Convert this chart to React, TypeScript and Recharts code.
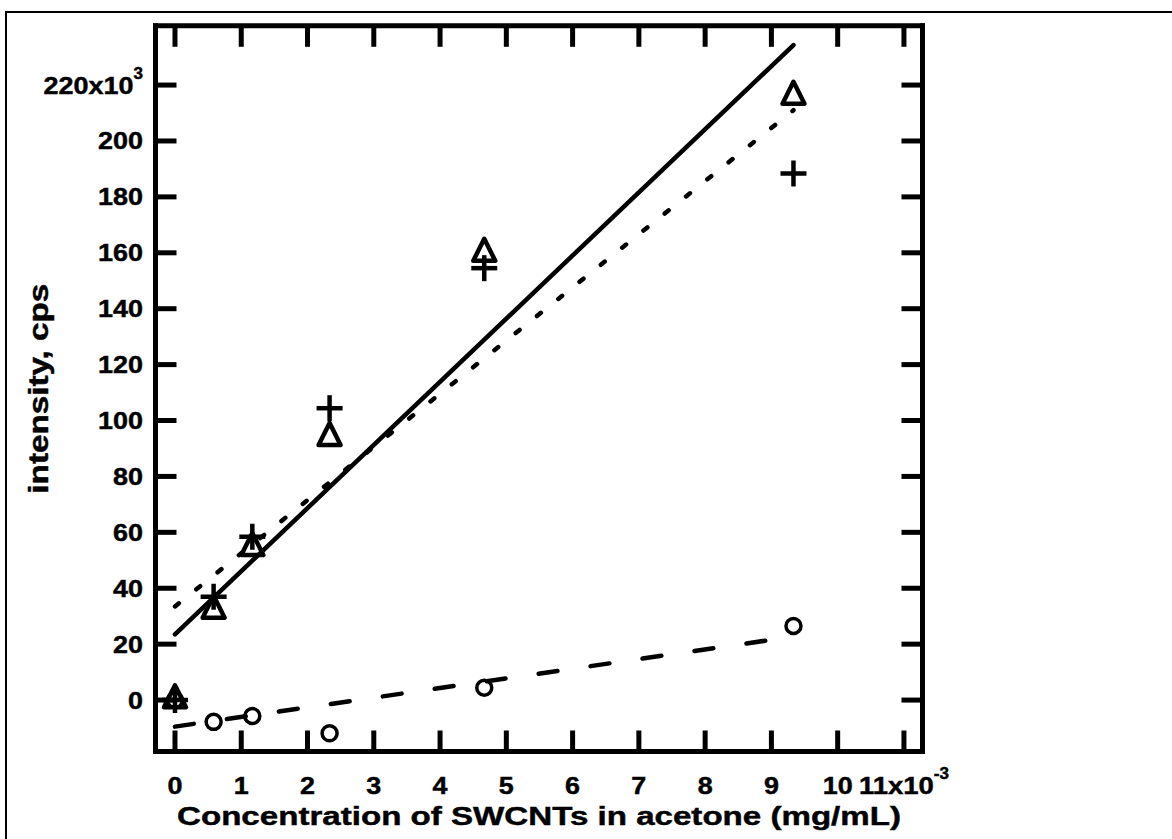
import React from 'react';
import { ComposedChart, Line, Scatter, XAxis, YAxis } from 'recharts';

// concentration of SWCNTs in acetone, x10^-3 mg/mL
const concentration = [0, 0.583, 1.167, 2.333, 4.667, 9.333];
// intensity, x10^3 cps
const triangleIntensity = [1, 33, 55.5, 94.8, 160.7, 216.9];
const plusIntensity = [0, 37, 58.4, 104.4, 154.5, 188.4];
const circleIntensity = [0, -7.8, -5.7, -11.9, 4.4, 26.5];

// fitted lines (end points)
const fitConcentration = [0, 9.333];
const solidFitIntensity = [23.5, 234.3];
const dottedFitIntensity = [33.5, 211];
const dashedFitIntensity = [-9.5, 22.7];

const xTicks = [0, 1, 2, 3, 4, 5, 6, 7, 8, 9, 10, 11];
const xTickLabels = ['0', '1', '2', '3', '4', '5', '6', '7', '8', '9', '10', '11x10'];
const xTickSup = ['', '', '', '', '', '', '', '', '', '', '', '-3'];
const yTicks = [0, 20, 40, 60, 80, 100, 120, 140, 160, 180, 200, 220];
const yTickLabels = ['0', '20', '40', '60', '80', '100', '120', '140', '160', '180', '200', '220x10'];
const yTickSup = ['', '', '', '', '', '', '', '', '', '', '', '3'];

const xDomain = [-0.294, 11.28];
const yDomain = [-18.4, 241.2];

const xTitle = 'Concentration of SWCNTs in acetone (mg/mL)';
const yTitle = 'intensity, cps';

const toPoints = (xs: number[], ys: number[]) => xs.map((x, i) => ({ x, y: ys[i] }));
const triangleData = toPoints(concentration, triangleIntensity);
const plusData = toPoints(concentration, plusIntensity);
const circleData = toPoints(concentration, circleIntensity);
const solidData = toPoints(fitConcentration, solidFitIntensity);
const dottedData = toPoints(fitConcentration, dottedFitIntensity);
const dashedData = toPoints(fitConcentration, dashedFitIntensity);

const FONT = '"Liberation Sans", Arial, Helvetica, sans-serif';
const INK = '#000';
const FRAME_W = 5;
const TICK_FS = 24.5;
const WIDEN = 1.1;

const mainLen = (s: string) => s.length * 0.556 * TICK_FS * WIDEN;

const TickText = ({ x, y, dy, anchor, main, sup }: any) => (
  <text
    x={x}
    y={y}
    dy={dy}
    textAnchor={anchor}
    fontFamily={FONT}
    fontWeight="bold"
    fontSize={TICK_FS}
    fill={INK}
    stroke={INK}
    strokeWidth={0.45}
  >
    <tspan textLength={mainLen(main)} lengthAdjust="spacingAndGlyphs">
      {main}
    </tspan>
    {sup ? (
      <tspan dy={-15} fontSize={17}>
        {sup}
      </tspan>
    ) : null}
  </text>
);

const XTick = (props: any) => {
  const { x, y, payload } = props;
  const i = xTicks.indexOf(payload.value);
  if (i < 0) return <g />;
  return <TickText x={x} y={y} dy={0} anchor="middle" main={xTickLabels[i]} sup={xTickSup[i]} />;
};

const YTick = (props: any) => {
  const { x, y, payload } = props;
  const i = yTicks.indexOf(payload.value);
  if (i < 0) return <g />;
  return <TickText x={x} y={y} dy={8.5} anchor="end" main={yTickLabels[i]} sup={yTickSup[i]} />;
};

const EmptyTick = () => <g />;

const XTitle = (props: any) => {
  const vb = props.viewBox || {};
  const cx = vb.x + vb.width / 2;
  return (
    <text
      x={cx}
      y={vb.y + 73.5}
      textAnchor="middle"
      fontFamily={FONT}
      fontWeight="bold"
      fontSize={26.5}
      fill={INK}
      stroke={INK}
      strokeWidth={0.45}
      textLength={724}
      lengthAdjust="spacingAndGlyphs"
    >
      {xTitle}
    </text>
  );
};

const YTitle = (props: any) => {
  const vb = props.viewBox || {};
  const x = vb.x - 47.5;
  const y = vb.y + vb.height / 2;
  return (
    <text
      x={x}
      y={y}
      transform={`rotate(-90, ${x}, ${y})`}
      textAnchor="middle"
      fontFamily={FONT}
      fontWeight="bold"
      fontSize={27}
      fill={INK}
      stroke={INK}
      strokeWidth={0.45}
      textLength={210}
      lengthAdjust="spacingAndGlyphs"
    >
      {yTitle}
    </text>
  );
};

const TriangleShape = (props: any) => {
  const { cx, cy } = props;
  if (cx == null || cy == null) return <g />;
  const d = `M${cx},${cy - 12} L${cx + 11},${cy + 10} L${cx - 11},${cy + 10} Z`;
  return <path d={d} fill="none" stroke={INK} strokeWidth={4.5} strokeLinejoin="round" />;
};

const PlusShape = (props: any) => {
  const { cx, cy } = props;
  if (cx == null || cy == null) return <g />;
  return (
    <g stroke={INK} strokeWidth={4.5}>
      <line x1={cx - 13} y1={cy} x2={cx + 13} y2={cy} />
      <line x1={cx} y1={cy - 13} x2={cx} y2={cy + 13} />
    </g>
  );
};

const CircleShape = (props: any) => {
  const { cx, cy } = props;
  if (cx == null || cy == null) return <g />;
  return <circle cx={cx} cy={cy} r={7.5} fill="none" stroke={INK} strokeWidth={3.5} />;
};

const axisLineStyle = { stroke: INK, strokeWidth: FRAME_W, strokeLinecap: 'square' as const };
const tickLineStyle = { stroke: INK, strokeWidth: FRAME_W };

export default function App() {
  return (
    <div style={{ position: 'absolute', left: 0, top: 0, width: 1172, height: 839, overflow: 'hidden', background: '#fff' }}>
      <div
        style={{
          position: 'absolute',
          left: 5,
          top: 11,
          width: 1300,
          height: 1000,
          borderLeft: '2px solid #000',
          borderTop: '2px solid #000',
        }}
      />
      <div style={{ position: 'absolute', left: 0, top: 0 }}>
        <ComposedChart width={1172} height={839} margin={{ top: 20.8, right: 244.5, bottom: 27.5, left: 95.5 }}>
          <XAxis
            xAxisId="b"
            orientation="bottom"
            type="number"
            dataKey="x"
            domain={xDomain}
            allowDataOverflow
            ticks={xTicks}
            interval={0}
            height={60}
            stroke={INK}
            strokeWidth={FRAME_W}
            axisLine={axisLineStyle}
            tickLine={tickLineStyle}
            tickSize={-21}
            tickMargin={63}
            tick={<XTick />}
            label={<XTitle />}
          />
          <XAxis
            xAxisId="t"
            orientation="top"
            type="number"
            dataKey="x"
            domain={xDomain}
            allowDataOverflow
            ticks={xTicks}
            interval={0}
            height={5}
            stroke={INK}
            strokeWidth={FRAME_W}
            axisLine={axisLineStyle}
            tickLine={tickLineStyle}
            tickSize={-21}
            tick={<EmptyTick />}
          />
          <YAxis
            yAxisId="l"
            orientation="left"
            type="number"
            dataKey="y"
            domain={yDomain}
            allowDataOverflow
            ticks={yTicks}
            interval={0}
            width={60}
            stroke={INK}
            strokeWidth={FRAME_W}
            axisLine={axisLineStyle}
            tickLine={tickLineStyle}
            tickSize={-21}
            tickMargin={33.5}
            tick={<YTick />}
            label={<YTitle />}
          />
          <YAxis
            yAxisId="r"
            orientation="right"
            type="number"
            dataKey="y"
            domain={yDomain}
            allowDataOverflow
            ticks={yTicks}
            interval={0}
            width={5}
            stroke={INK}
            strokeWidth={FRAME_W}
            axisLine={axisLineStyle}
            tickLine={tickLineStyle}
            tickSize={-21}
            tick={<EmptyTick />}
          />
          <Line
            xAxisId="b"
            yAxisId="l"
            data={solidData}
            dataKey="y"
            type="linear"
            stroke={INK}
            strokeWidth={4.5}
            strokeLinecap="round"
            dot={false}
            activeDot={false}
            isAnimationActive={false}
          />
          <Line
            xAxisId="b"
            yAxisId="l"
            data={dottedData}
            dataKey="y"
            type="linear"
            stroke={INK}
            strokeWidth={4.5}
            strokeLinecap="round"
            strokeDasharray="5 22.3"
            dot={false}
            activeDot={false}
            isAnimationActive={false}
          />
          <Line
            xAxisId="b"
            yAxisId="l"
            data={dashedData}
            dataKey="y"
            type="linear"
            stroke={INK}
            strokeWidth={4.5}
            strokeLinecap="round"
            strokeDasharray="19 33.5"
            dot={false}
            activeDot={false}
            isAnimationActive={false}
          />
          <Scatter xAxisId="b" yAxisId="l" data={circleData} dataKey="y" shape={<CircleShape />} isAnimationActive={false} />
          <Scatter xAxisId="b" yAxisId="l" data={plusData} dataKey="y" shape={<PlusShape />} isAnimationActive={false} />
          <Scatter xAxisId="b" yAxisId="l" data={triangleData} dataKey="y" shape={<TriangleShape />} isAnimationActive={false} />
        </ComposedChart>
      </div>
    </div>
  );
}
